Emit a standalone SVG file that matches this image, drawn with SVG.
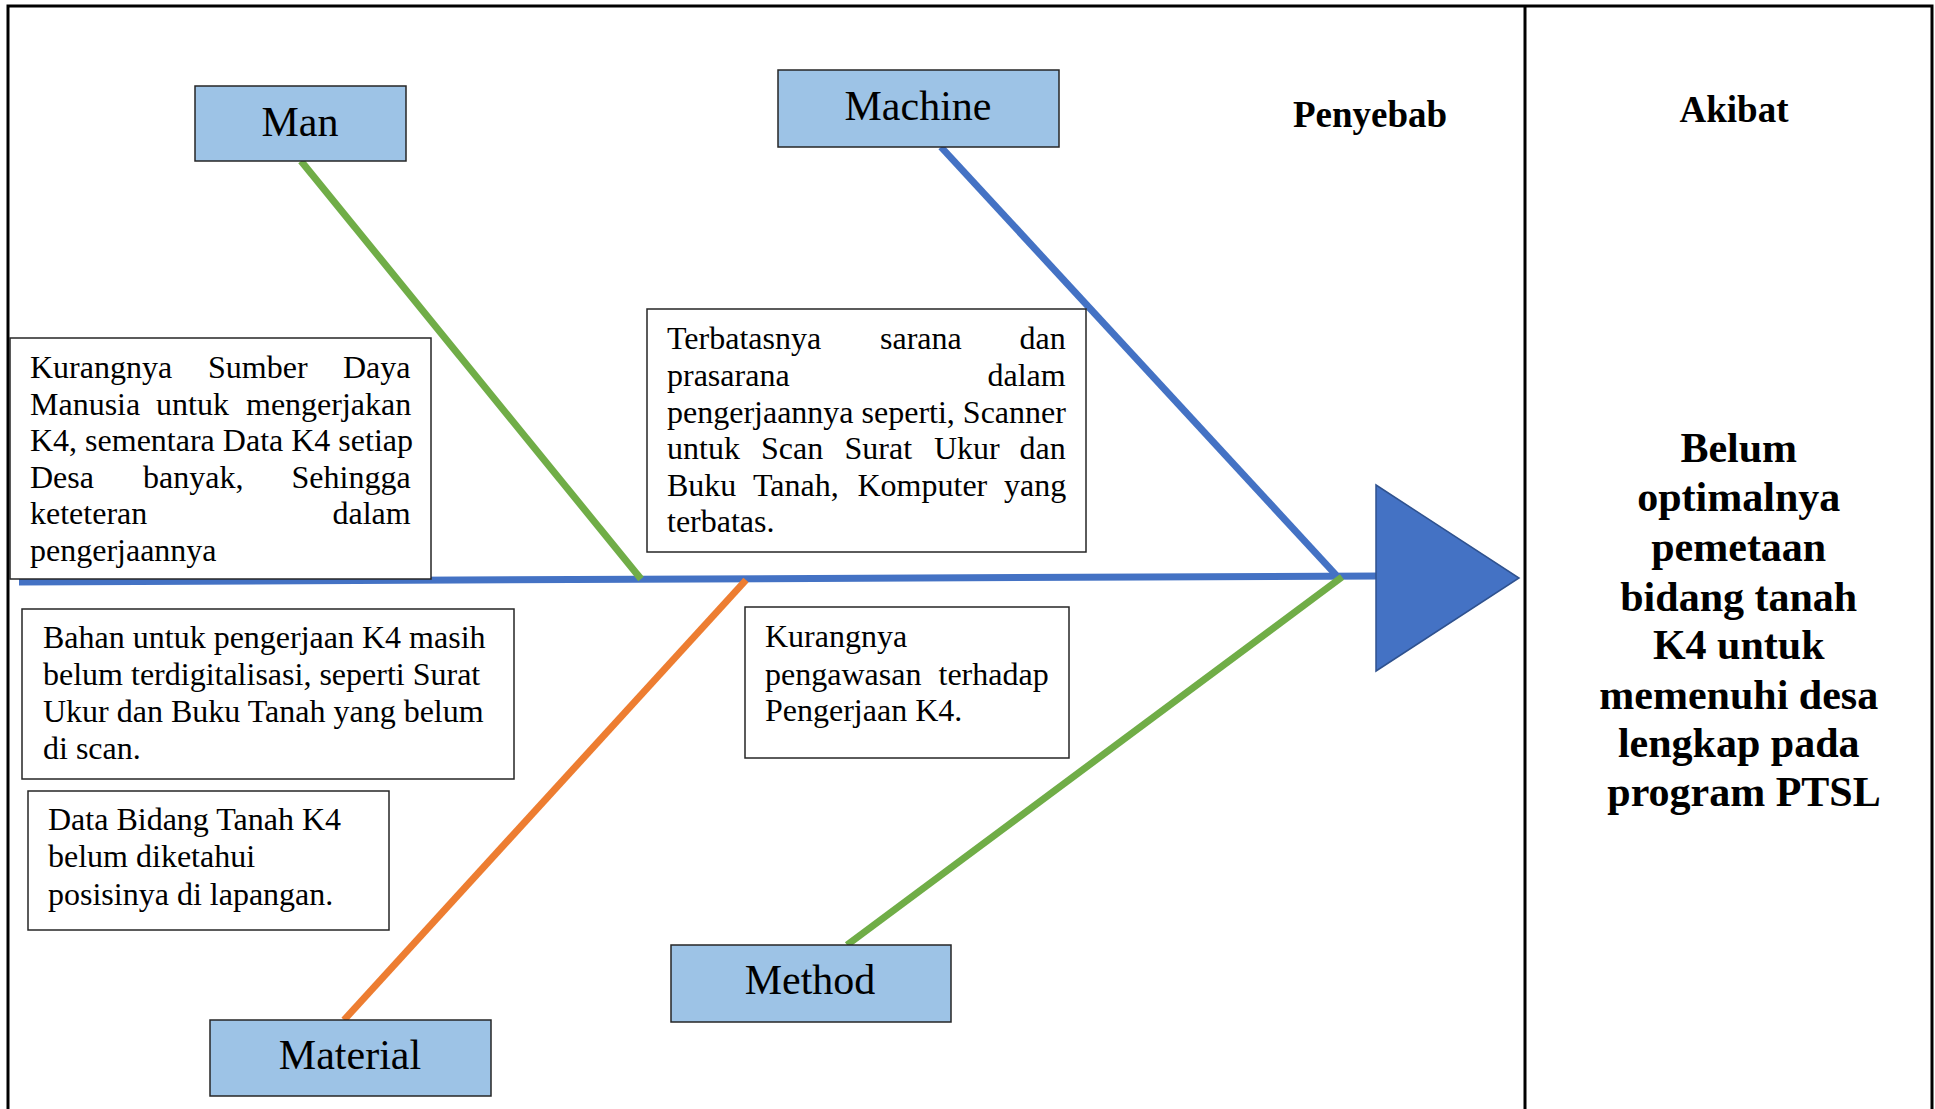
<svg xmlns="http://www.w3.org/2000/svg" width="1935" height="1109" viewBox="0 0 1935 1109">
<style>
.frame{stroke:#000;stroke-width:3;fill:none}
.cat{fill:#9DC3E6;stroke:#262626;stroke-width:1.5}
.cause{fill:#fff;stroke:#262626;stroke-width:1.5}
.lbl{font-family:"Liberation Serif","Times New Roman",serif;font-size:42px;fill:#000;text-anchor:middle}
.body{font-family:"Liberation Serif","Times New Roman",serif;font-size:32px;fill:#000}
.head{font-family:"Liberation Serif","Times New Roman",serif;font-size:37px;font-weight:bold;fill:#000;text-anchor:middle}
.res{font-family:"Liberation Serif","Times New Roman",serif;font-size:42px;font-weight:bold;fill:#000;text-anchor:middle}
.blue{stroke:#4472C4;stroke-width:7;fill:none}
.green{stroke:#70AD47;stroke-width:7;fill:none}
.orange{stroke:#ED7D31;stroke-width:7;fill:none}
</style>
<rect width="1935" height="1109" fill="#fff"/>
<g id="frame">
<path class="frame" d="M8,1109 V6 H1932 V1109"/>
<line class="frame" x1="1525" y1="6" x2="1525" y2="1109"/>
</g>
<g id="connectors">
<line class="blue" x1="19" y1="582" x2="1380" y2="576"/>
<line class="green" x1="301" y1="161" x2="641" y2="579"/>
<line class="blue" x1="941" y1="147" x2="1336" y2="575"/>
<line class="orange" x1="746" y1="580" x2="344" y2="1020"/>
<line class="green" x1="847" y1="945" x2="1342" y2="577"/>
<polygon points="1376,485 1519,578 1376,671" fill="#4472C4" stroke="#2F528F" stroke-width="1.5"/>
</g>
<g id="penyebab"><text class="head" x="1370" y="127">Penyebab</text></g>
<g id="akibat"><text class="head" x="1734" y="122">Akibat</text></g>
<g id="man">
<rect class="cat" x="195" y="86" width="211" height="75"/>
<text class="lbl" x="300" y="136">Man</text>
</g>
<g id="machine">
<rect class="cat" x="778" y="70" width="281" height="77"/>
<text class="lbl" x="918" y="120">Machine</text>
</g>
<g id="material">
<rect class="cat" x="210" y="1020" width="281" height="76"/>
<text class="lbl" x="350" y="1069">Material</text>
</g>
<g id="method">
<rect class="cat" x="671" y="945" width="280" height="77"/>
<text class="lbl" x="810" y="994">Method</text>
</g>
<g id="cause-man">
<rect class="cause" x="10" y="338" width="421" height="241"/>
<text class="body"><tspan x="30" y="378">Kurangnya</tspan><tspan x="208" y="378">Sumber</tspan><tspan x="343" y="378">Daya</tspan></text>
<text class="body"><tspan x="30" y="414.5">Manusia</tspan><tspan x="156" y="414.5">untuk</tspan><tspan x="246" y="414.5">mengerjakan</tspan></text>
<text class="body" x="30" y="451">K4, sementara Data K4 setiap</text>
<text class="body"><tspan x="30" y="487.5">Desa</tspan><tspan x="143" y="487.5">banyak,</tspan><tspan x="291.5" y="487.5">Sehingga</tspan></text>
<text class="body"><tspan x="30" y="524">keteteran</tspan><tspan x="332.5" y="524">dalam</tspan></text>
<text class="body" x="30" y="560.5">pengerjaannya</text>
</g>
<g id="cause-machine">
<rect class="cause" x="647" y="309" width="439" height="243"/>
<text class="body"><tspan x="667" y="349">Terbatasnya</tspan><tspan x="880" y="349">sarana</tspan><tspan x="1019.5" y="349">dan</tspan></text>
<text class="body"><tspan x="667" y="386">prasarana</tspan><tspan x="987.5" y="386">dalam</tspan></text>
<text class="body" x="667" y="422.5">pengerjaannya seperti, Scanner</text>
<text class="body"><tspan x="667" y="459">untuk</tspan><tspan x="761" y="459">Scan</tspan><tspan x="844.5" y="459">Surat</tspan><tspan x="934" y="459">Ukur</tspan><tspan x="1019.5" y="459">dan</tspan></text>
<text class="body"><tspan x="667" y="495.5">Buku</tspan><tspan x="753" y="495.5">Tanah,</tspan><tspan x="857.5" y="495.5">Komputer</tspan><tspan x="1004" y="495.5">yang</tspan></text>
<text class="body" x="667" y="532">terbatas.</text>
</g>
<g id="cause-material-1">
<rect class="cause" x="22" y="609" width="492" height="170"/>
<text class="body" x="43" y="648">Bahan untuk pengerjaan K4 masih</text>
<text class="body" x="43" y="685">belum terdigitalisasi, seperti Surat</text>
<text class="body" x="43" y="721.5">Ukur dan Buku Tanah yang belum</text>
<text class="body" x="43" y="758.5">di scan.</text>
</g>
<g id="cause-material-2">
<rect class="cause" x="28" y="791" width="361" height="139"/>
<text class="body" x="48" y="830">Data Bidang Tanah K4</text>
<text class="body" x="48" y="867">belum diketahui</text>
<text class="body" x="48" y="904.5">posisinya di lapangan.</text>
</g>
<g id="cause-method">
<rect class="cause" x="745" y="607" width="324" height="151"/>
<text class="body" x="765" y="647">Kurangnya</text>
<text class="body"><tspan x="765" y="685">pengawasan</tspan><tspan x="938.5" y="685">terhadap</tspan></text>
<text class="body" x="765" y="721">Pengerjaan K4.</text>
</g>
<g id="effect">
<text class="res" x="1744">
<tspan x="1744" y="462">Belum</tspan>
<tspan x="1744" y="511">optimalnya</tspan>
<tspan x="1744" y="561">pemetaan</tspan>
<tspan x="1744" y="610.5">bidang tanah</tspan>
<tspan x="1744" y="659">K4 untuk</tspan>
<tspan x="1744" y="709">memenuhi desa</tspan>
<tspan x="1744" y="757">lengkap pada</tspan>
<tspan x="1744" y="806">program PTSL</tspan>
</text>
</g>
</svg>
